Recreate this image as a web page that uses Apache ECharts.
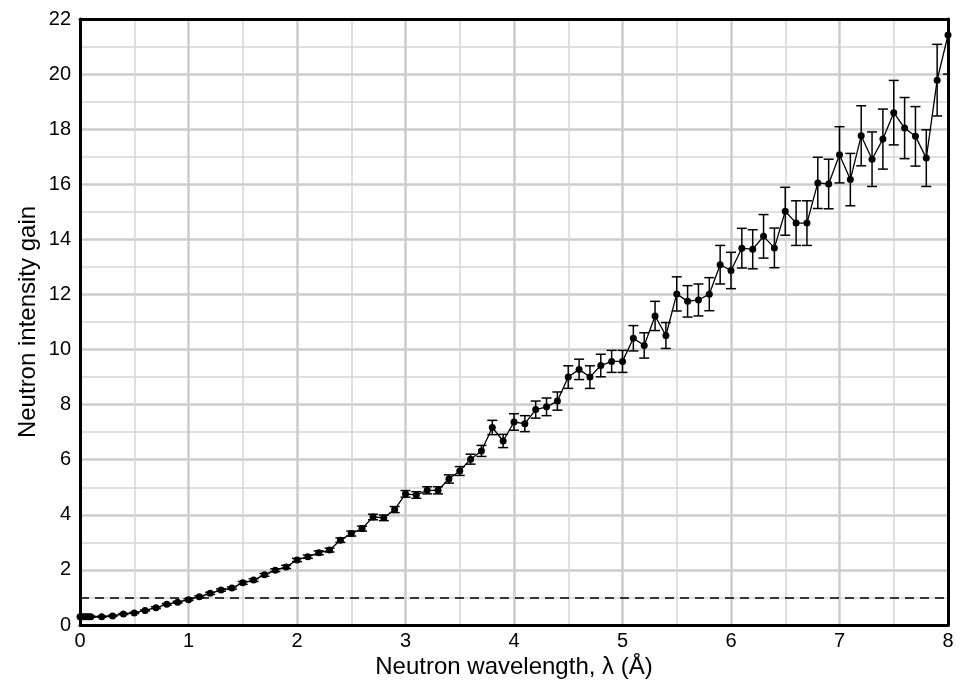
<!DOCTYPE html>
<html>
<head>
<meta charset="utf-8">
<script src="https://cdn.jsdelivr.net/npm/echarts@6/dist/echarts.min.js"></script>
<style>
html,body{margin:0;padding:0;background:#fff;}
#chart{width:964px;height:688px;}
</style>
</head>
<body>
<div id="chart"></div>
<script>
var wavelength = [0, 0.02, 0.04, 0.06, 0.08, 0.1, 0.2, 0.3, 0.4, 0.5, 0.6, 0.7, 0.8, 0.9,
  1.0, 1.1, 1.2, 1.3, 1.4, 1.5, 1.6, 1.7, 1.8, 1.9,
  2.0, 2.1, 2.2, 2.3, 2.4, 2.5, 2.6, 2.7, 2.8, 2.9,
  3.0, 3.1, 3.2, 3.3, 3.4, 3.5, 3.6, 3.7, 3.8, 3.9,
  4.0, 4.1, 4.2, 4.3, 4.4, 4.5, 4.6, 4.7, 4.8, 4.9,
  5.0, 5.1, 5.2, 5.3, 5.4, 5.5, 5.6, 5.7, 5.8, 5.9,
  6.0, 6.1, 6.2, 6.3, 6.4, 6.5, 6.6, 6.7, 6.8, 6.9,
  7.0, 7.1, 7.2, 7.3, 7.4, 7.5, 7.6, 7.7, 7.8, 7.9, 8.0];
var gain = [0.30, 0.30, 0.30, 0.30, 0.30, 0.30, 0.30, 0.33, 0.40, 0.44, 0.53, 0.63, 0.75, 0.83,
  0.92, 1.03, 1.15, 1.27, 1.34, 1.53, 1.63, 1.82, 1.99, 2.11,
  2.36, 2.48, 2.62, 2.72, 3.08, 3.32, 3.50, 3.92, 3.89, 4.19,
  4.76, 4.72, 4.89, 4.89, 5.30, 5.59, 6.02, 6.32, 7.17, 6.68,
  7.37, 7.31, 7.82, 7.92, 8.13, 9.00, 9.28, 9.00, 9.42, 9.57,
  9.57, 10.41, 10.15, 11.22, 10.51, 12.02, 11.75, 11.80, 12.01, 13.08,
  12.87, 13.68, 13.64, 14.11, 13.69, 15.02, 14.59, 14.59, 16.05, 16.01,
  17.07, 16.17, 17.76, 16.91, 17.64, 18.60, 18.04, 17.74, 16.95, 19.78, 21.42];
var gainError = [0.02, 0.02, 0.02, 0.02, 0.02, 0.02, 0.02, 0.02, 0.02, 0.02, 0.02, 0.03, 0.03, 0.03,
  0.03, 0.03, 0.04, 0.04, 0.04, 0.05, 0.05, 0.05, 0.05, 0.06,
  0.06, 0.06, 0.07, 0.07, 0.08, 0.09, 0.09, 0.10, 0.10, 0.11,
  0.12, 0.12, 0.13, 0.13, 0.15, 0.16, 0.18, 0.20, 0.26, 0.24,
  0.30, 0.29, 0.31, 0.32, 0.33, 0.41, 0.37, 0.41, 0.41, 0.40,
  0.40, 0.46, 0.46, 0.53, 0.47, 0.62, 0.57, 0.58, 0.60, 0.70,
  0.66, 0.72, 0.71, 0.79, 0.72, 0.87, 0.81, 0.81, 0.93, 0.90,
  1.02, 0.95, 1.09, 0.99, 1.09, 1.17, 1.11, 1.08, 1.03, 1.30, 1.42];
var xTicks = {min: 0, max: 8, interval: 1};
var yTicks = {min: 0, max: 22, interval: 2};
var referenceGain = 1;

var pts = wavelength.map(function (x, i) { return [x, gain[i]]; });
var errs = wavelength.map(function (x, i) { return [x, gain[i] - gainError[i], gain[i] + gainError[i]]; });

var FONT = 'Liberation Sans';
var chart = echarts.init(document.getElementById('chart'), null, {renderer: 'canvas'});

function baseAxis(extra) {
  return Object.assign({
    type: 'value',
    axisLine: {show: true, onZero: false, lineStyle: {color: '#000', width: 3}},
    axisTick: {show: false},
    splitLine: {show: false},
    axisLabel: {show: false}
  }, extra);
}

chart.setOption({
  backgroundColor: '#fff',
  animation: false,
  grid: {left: 80, right: 16, top: 19, bottom: 63, containLabel: false},
  xAxis: [
    {
      type: 'value', min: xTicks.min, max: xTicks.max, interval: xTicks.interval,
      name: 'Neutron wavelength, \u03BB (\u00C5)',
      nameLocation: 'middle', nameGap: 30, nameMoveOverlap: false,
      nameTextStyle: {fontFamily: FONT, fontSize: 24, color: '#000'},
      axisLine: {show: true, onZero: false, lineStyle: {color: '#000', width: 3}},
      axisTick: {show: false},
      axisLabel: {fontFamily: FONT, fontSize: 20, color: '#000', margin: 6},
      splitLine: {show: true, lineStyle: {color: '#cccccc', width: 2.5}},
      minorTick: {show: false, splitNumber: 2},
      minorSplitLine: {show: true, lineStyle: {color: '#d6d6d6', width: 1.5}}
    },
    baseAxis({position: 'top', min: xTicks.min, max: xTicks.max})
  ],
  yAxis: [
    {
      type: 'value', min: yTicks.min, max: yTicks.max, interval: yTicks.interval,
      name: 'Neutron intensity gain',
      nameLocation: 'middle', nameGap: 40, nameMoveOverlap: false,
      nameTextStyle: {fontFamily: FONT, fontSize: 24, color: '#000'},
      axisLine: {show: true, onZero: false, lineStyle: {color: '#000', width: 3}},
      axisTick: {show: false},
      axisLabel: {fontFamily: FONT, fontSize: 20, color: '#000', margin: 9},
      splitLine: {show: true, lineStyle: {color: '#cccccc', width: 2.5}},
      minorTick: {show: false, splitNumber: 2},
      minorSplitLine: {show: true, lineStyle: {color: '#d6d6d6', width: 1.5}}
    },
    baseAxis({position: 'right', min: yTicks.min, max: yTicks.max})
  ],
  series: [
    {
      type: 'custom',
      name: 'error',
      xAxisIndex: 0, yAxisIndex: 0,
      data: errs,
      z: 3,
      renderItem: function (params, api) {
        var x = api.value(0);
        var lo = api.coord([x, api.value(1)]);
        var hi = api.coord([x, api.value(2)]);
        var cap = 5;
        var st = {stroke: '#000', lineWidth: 1.5};
        return {
          type: 'group',
          children: [
            {type: 'line', shape: {x1: lo[0], y1: lo[1], x2: hi[0], y2: hi[1]}, style: st},
            {type: 'line', shape: {x1: lo[0] - cap, y1: lo[1], x2: lo[0] + cap, y2: lo[1]}, style: st},
            {type: 'line', shape: {x1: hi[0] - cap, y1: hi[1], x2: hi[0] + cap, y2: hi[1]}, style: st}
          ]
        };
      },
      clip: true
    },
    {
      type: 'line',
      name: 'gain',
      xAxisIndex: 0, yAxisIndex: 0,
      data: pts,
      z: 4,
      symbol: 'circle',
      symbolSize: 7,
      showAllSymbol: true,
      itemStyle: {color: '#000'},
      lineStyle: {color: '#000', width: 1.3},
      clip: true,
      markLine: {
        silent: true,
        symbol: 'none',
        label: {show: false},
        lineStyle: {color: '#000', width: 1.6, type: [9, 6]},
        data: [{yAxis: referenceGain}]
      }
    }
  ]
});
</script>
</body>
</html>
